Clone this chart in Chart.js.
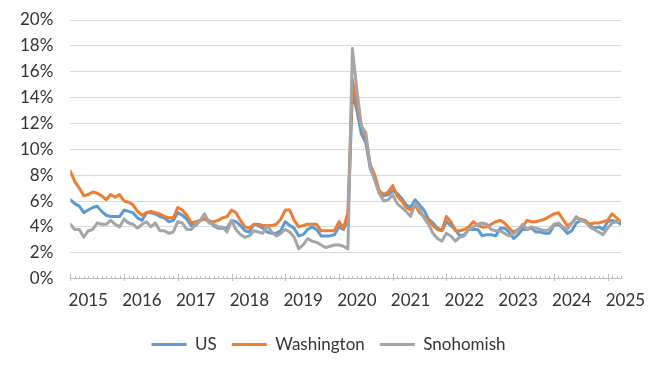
<!DOCTYPE html>
<html>
<head>
<meta charset="utf-8">
<script src="https://cdn.jsdelivr.net/npm/chart.js@4.4.1/dist/chart.umd.min.js"></script>
<style>
  html, body { margin: 0; padding: 0; background: #fff; }
  canvas { display: block; }
</style>
</head>
<body>
<canvas id="chart" width="650" height="372"></canvas>
<script>
// monthly unemployment rate, Jan 2015 .. Apr 2025 (index 0 = Jan 2015)
const yearLabels = ['2015', '2016', '2017', '2018', '2019', '2020', '2021', '2022', '2023', '2024', '2025'];

const US = [
  6.1, 5.8, 5.6, 5.1, 5.3, 5.5, 5.6, 5.2, 4.9, 4.8, 4.8, 4.8,
  5.3, 5.2, 5.1, 4.7, 4.5, 5.1, 5.1, 5.0, 4.8, 4.7, 4.4, 4.5,
  5.1, 4.9, 4.6, 4.1, 4.1, 4.5, 4.6, 4.5, 4.1, 3.9, 3.9, 3.9,
  4.5, 4.4, 4.1, 3.7, 3.6, 4.2, 4.1, 3.9, 3.6, 3.5, 3.5, 3.7,
  4.4, 4.1, 3.9, 3.3, 3.4, 3.8, 4.0, 3.8, 3.3, 3.3, 3.3, 3.4,
  4.0, 3.8, 4.5, 14.4, 13.0, 11.2, 10.5, 8.5, 7.7, 6.6, 6.4, 6.5,
  6.8, 6.6, 6.2, 5.7, 5.5, 6.1, 5.7, 5.3, 4.6, 4.3, 3.9, 3.7,
  4.4, 4.1, 3.8, 3.3, 3.4, 3.8, 3.8, 3.8, 3.3, 3.4, 3.4, 3.3,
  3.9, 3.9, 3.6, 3.1, 3.4, 3.8, 3.8, 3.9, 3.6, 3.6, 3.5, 3.5,
  4.1, 4.2, 3.9, 3.5, 3.7, 4.3, 4.5, 4.4, 4.1, 3.9, 4.0, 3.8,
  4.4, 4.5, 4.4, 4.2
];

const washington = [
  8.3, 7.5, 7.0, 6.4, 6.5, 6.7, 6.6, 6.4, 6.1, 6.5, 6.3, 6.5,
  6.0, 5.9, 5.7, 5.2, 4.9, 5.1, 5.2, 5.1, 5.0, 4.8, 4.7, 4.7,
  5.5, 5.3, 4.9, 4.3, 4.4, 4.5, 4.6, 4.4, 4.4, 4.5, 4.7, 4.8,
  5.3, 5.1, 4.5, 4.0, 3.9, 4.2, 4.2, 4.1, 4.1, 4.1, 4.2, 4.6,
  5.3, 5.3, 4.5, 4.0, 4.1, 4.2, 4.2, 4.2, 3.7, 3.7, 3.7, 3.7,
  4.4, 3.9, 5.1, 15.4, 13.6, 11.8, 10.9, 8.8, 8.0, 6.8, 6.5, 6.7,
  7.2, 6.4, 6.0, 5.5, 5.3, 5.7, 5.1, 4.8, 4.5, 4.1, 3.8, 3.7,
  4.8, 4.4, 3.7, 3.7, 3.8, 4.0, 4.4, 4.1, 4.0, 4.0, 4.2, 4.4,
  4.5, 4.3, 3.9, 3.6, 3.8, 4.0, 4.5, 4.4, 4.4, 4.5, 4.6, 4.8,
  5.0, 5.1, 4.6, 4.1, 4.3, 4.7, 4.6, 4.5, 4.2, 4.3, 4.3, 4.4,
  4.5, 5.0, 4.7, 4.4
];

const snohomish = [
  4.2, 3.8, 3.8, 3.2, 3.7, 3.8, 4.3, 4.2, 4.2, 4.5, 4.2, 4.0,
  4.6, 4.3, 4.2, 3.9, 4.2, 4.4, 4.0, 4.3, 3.7, 3.7, 3.5, 3.6,
  4.4, 4.3, 3.8, 3.8, 4.2, 4.5, 5.0, 4.3, 4.2, 4.0, 4.0, 3.6,
  4.5, 3.8, 3.4, 3.2, 3.3, 3.7, 3.6, 3.5, 4.1, 3.6, 3.3, 3.5,
  3.8, 3.6, 3.2, 2.3, 2.6, 3.1, 2.9, 2.8, 2.6, 2.4, 2.5, 2.6,
  2.6, 2.5, 2.3, 17.8, 14.6, 11.8, 11.3, 8.6, 7.6, 6.6, 6.0, 6.1,
  6.5, 5.8, 5.5, 5.2, 4.8, 5.8, 5.4, 4.7, 4.2, 3.5, 3.1, 2.9,
  3.5, 3.3, 2.9, 3.2, 3.3, 3.8, 4.0, 4.2, 4.3, 4.2, 3.8, 3.7,
  3.7, 3.5, 3.3, 3.5, 3.7, 4.2, 3.8, 4.0, 3.9, 3.8, 3.7, 3.8,
  4.2, 4.3, 4.0, 3.8, 4.3, 4.8, 4.5, 4.4, 4.0, 3.8, 3.6, 3.4,
  3.9, 4.3, 4.4, 4.5
];

const toPoints = arr => arr.map((y, i) => ({ x: i, y }));

// little month tick marks along the bottom axis, bigger ones at each January
const monthTicks = {
  id: 'monthTicks',
  afterDraw(chart) {
    const xs = chart.scales.x;
    const bottom = Math.round(chart.chartArea.bottom);
    const ctx = chart.ctx;
    ctx.save();
    ctx.strokeStyle = '#bfbfbf';
    ctx.lineWidth = 1;
    ctx.beginPath();
    for (let i = 0; i < US.length; i++) {
      const px = Math.round(xs.getPixelForValue(i)) + 0.5;
      if (i % 12 === 0) {
        ctx.moveTo(px, bottom - 5);
        ctx.lineTo(px, bottom + 2);
      } else {
        ctx.moveTo(px, bottom - 3);
        ctx.lineTo(px, bottom);
      }
    }
    ctx.stroke();
    ctx.restore();
  }
};

// nudge the legend a bit to the right, like the original
const legendShift = {
  id: 'legendShift',
  afterLayout(chart) {
    chart.legend.left += 8;
    chart.legend.right += 8;
  }
};

Chart.defaults.font.family = 'Lato';
Chart.defaults.font.size = 17;
Chart.defaults.color = '#333';

const lineStyle = { borderWidth: 3, pointRadius: 0, tension: 0, borderJoinStyle: 'round', borderCapStyle: 'round' };

new Chart(document.getElementById('chart'), {
  type: 'line',
  data: {
    datasets: [
      { label: 'US', data: toPoints(US), borderColor: '#5b9bd5', backgroundColor: '#5b9bd5', order: 3, ...lineStyle },
      { label: 'Washington', data: toPoints(washington), borderColor: '#ed7d31', backgroundColor: '#ed7d31', order: 2, ...lineStyle },
      { label: 'Snohomish', data: toPoints(snohomish), borderColor: '#a5a5a5', backgroundColor: '#a5a5a5', order: 1, ...lineStyle }
    ]
  },
  options: {
    responsive: false,
    animation: false,
    layout: { padding: { left: 20, right: 29, top: 20, bottom: 9 } },
    scales: {
      x: {
        type: 'linear',
        min: 0,
        max: US.length - 1,
        grid: { display: false, drawTicks: false },
        border: { display: true, color: '#bfbfbf', width: 1 },
        ticks: {
          padding: 12,
          autoSkip: false,
          maxRotation: 0,
          callback: (v, idx) => yearLabels[idx]
        },
        afterBuildTicks: scale => {
          scale.ticks = yearLabels.map((_, k) => ({ value: 4 + k * 12 }));
        },
        afterFit: scale => {
          scale.height -= 2;
          scale.paddingLeft = 0;
          scale.paddingRight = 0;
        }
      },
      y: {
        min: 0,
        max: 20,
        grid: { color: '#d9d9d9', drawTicks: false },
        border: { display: false },
        ticks: {
          stepSize: 2,
          padding: 17,
          callback: v => v + '%'
        },
        afterFit: scale => {
          scale.width -= 17;
          scale.paddingTop = 0;
          scale.paddingBottom = 0;
        }
      }
    },
    plugins: {
      legend: {
        position: 'bottom',
        labels: {
          font: { size: 17 },
          usePointStyle: true,
          pointStyle: 'line',
          pointStyleWidth: 35,
          padding: 15,
          sort: (a, b) => a.datasetIndex - b.datasetIndex
        }
      },
      tooltip: { enabled: false }
    }
  },
  plugins: [monthTicks, legendShift]
});
</script>
</body>
</html>
